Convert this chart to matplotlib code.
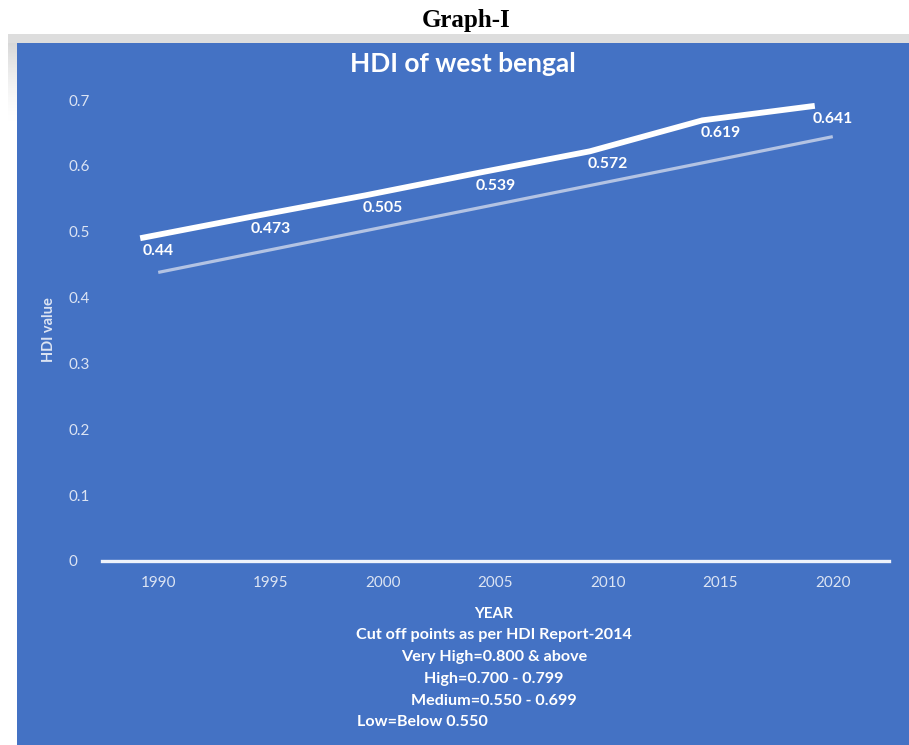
import numpy as np
import matplotlib.pyplot as plt
import matplotlib.transforms as mtransforms
from matplotlib.patches import Rectangle

# data
years = ['1990', '1995', '2000', '2005', '2010', '2015', '2020']
hdi = [0.44, 0.473, 0.505, 0.539, 0.572, 0.619, 0.641]
y_ticks = [0, 0.1, 0.2, 0.3, 0.4, 0.5, 0.6, 0.7]
y_tick_labels = ['0', '0.1', '0.2', '0.3', '0.4', '0.5', '0.6', '0.7']
notes = ['Cut off points as per HDI Report-2014',
         'Very High=0.800 & above',
         'High=0.700 - 0.799',
         'Medium=0.550 - 0.699']
low_note = 'Low=Below 0.550'

W, H = 909, 745
blue = '#4472C4'
light = '#dce4f3'
font = ['Lato', 'DejaVu Sans']

fig = plt.figure(figsize=(W / 100, H / 100), dpi=100)
fig.patch.set_facecolor('white')

# grey frame band on top, fading strip on the left, then blue chart area
fig.patches.append(Rectangle((8 / W, (H - 43) / H), 1 - 8 / W, 9 / H, transform=fig.transFigure,
                             facecolor='#dddddd', edgecolor='none', zorder=0))
fade = np.ones((80, 1, 4))
fade[..., :3] = 0.85
fade[:, 0, 3] = np.linspace(1, 0, 80) ** 1.5
gax = fig.add_axes([8 / W, (H - 123) / H, 9 / W, 80 / H], zorder=0.5)
gax.imshow(fade, aspect='auto', extent=[0, 1, 0, 1])
gax.axis('off')
fig.patches.append(Rectangle((17 / W, 0), 1 - 17 / W, (H - 43) / H, transform=fig.transFigure,
                             facecolor=blue, edgecolor='none', zorder=1))

fig.text(466 / W, 1 - 20 / H, 'Graph-I', ha='center', va='center', fontsize=18,
         fontweight='bold', family='Liberation Serif', color='black')

ax = fig.add_axes([102 / W, (H - 561) / H, 787 / W, 461 / H], zorder=2)
ax.set_facecolor('none')
x = np.arange(len(years))

# fitted linear trend (light line)
coef = np.polyfit(x, hdi, 1)
ax.plot(x, np.polyval(coef, x), color='#b3c3e3', lw=2.3, solid_capstyle='butt',
        clip_on=False, zorder=3)

# data line, drawn with the chart's offset effect
shifted = mtransforms.offset_copy(ax.transData, fig=fig, x=-18, y=33, units='dots')
ax.plot(x, hdi, color='white', lw=4.2, transform=shifted, solid_capstyle='butt',
        solid_joinstyle='round', clip_on=False, zorder=4)

label_tr = mtransforms.offset_copy(ax.transData, fig=fig, x=0, y=20, units='dots')
for xi, v in zip(x, hdi):
    ax.text(xi, v, f'{v:g}', transform=label_tr, ha='center', va='center',
            fontsize=11.3, fontweight='bold', color='white', family=font, zorder=5)

ax.set_xlim(-0.5, 6.5)
ax.set_ylim(0, 0.7)
ax.set_xticks(x)
ax.set_xticklabels(years, family=font, fontsize=11, color=light)
ax.set_yticks(y_ticks)
ax.set_yticklabels(y_tick_labels, family=font, fontsize=11, color=light)
for lbl in ax.get_yticklabels():
    lbl.set_ha('left')
ax.tick_params(axis='y', length=0, pad=24)
ax.tick_params(axis='x', length=0, pad=11)
for s in ['top', 'right', 'left']:
    ax.spines[s].set_visible(False)
ax.spines['bottom'].set_color('#eef2fa')
ax.spines['bottom'].set_linewidth(2.4)

fig.text(49 / W, 1 - 330 / H, 'HDI value', rotation=90, ha='center', va='center',
         fontsize=10.5, fontweight='bold', color=light, family=font)

fig.text(463 / W, 1 - 64 / H, 'HDI of west bengal', ha='center', va='center',
         fontsize=19, fontweight='bold', color='white', family=font)

fig.text(494 / W, 1 - 614 / H, 'YEAR', ha='center', va='center', fontsize=11,
         fontweight='bold', color='white', family=font)
for i, t in enumerate(notes):
    fig.text(494 / W, 1 - (635 + 22 * i) / H, t, ha='center', va='center',
             fontsize=11.6, fontweight='bold', color='white', family=font)
fig.text(357 / W, 1 - 722 / H, low_note, ha='left', va='center', fontsize=11.6,
         fontweight='bold', color='white', family=font)

fig.savefig('out.png', dpi=100, facecolor='white')
